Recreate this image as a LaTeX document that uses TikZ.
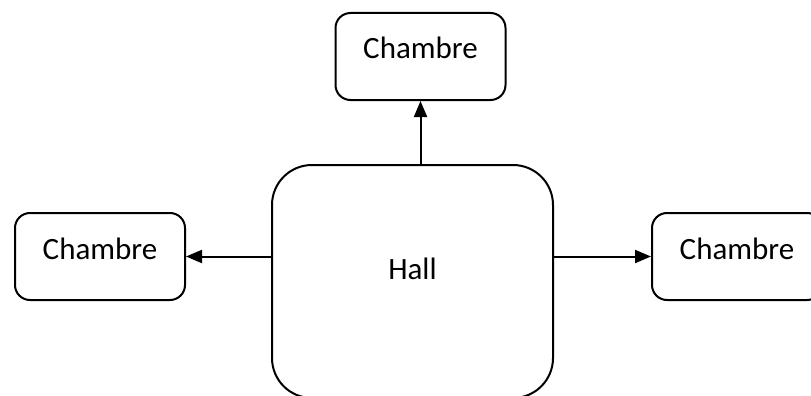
\documentclass[tikz,border=0pt]{standalone}
\usepackage{fontspec}
\setmainfont{Carlito}
\usetikzlibrary{arrows.meta, positioning}

\tikzset{
  piece/.style={draw, line width=2pt, rounded corners=15pt, inner sep=0pt,
    font=\fontsize{31}{37}\selectfont, align=center},
  chambre/.style={piece, minimum width=170pt, minimum height=87pt,
    text height=46pt, text depth=41pt},
  fleche/.style={line width=2pt, -{Triangle[length=16pt, width=13pt]}}
}

\begin{document}
\begin{tikzpicture}[x=1pt, y=-1pt]
  \clip (0,0) rectangle (811,396);

  % hall
  \node[piece, rounded corners=40pt, minimum width=281pt, minimum height=233pt,
    text height=114pt, text depth=119pt] (hall) at (412.5, 281.5) {Hall};

  % chambres
  \node[chambre] (chambreHaut) at (420.5, 56.5) {Chambre};
  \node[chambre] (chambreGauche) at (100, 256.5) {Chambre};
  \node[chambre] (chambreDroite) at (737, 256.5) {Chambre};

  % liaisons
  \draw[fleche] (chambreHaut.south |- hall.north) -- (chambreHaut.south);
  \draw[fleche] (chambreGauche -| hall.west) -- (chambreGauche.east);
  \draw[fleche] (chambreDroite -| hall.east) -- (chambreDroite.west);
\end{tikzpicture}
\end{document}
